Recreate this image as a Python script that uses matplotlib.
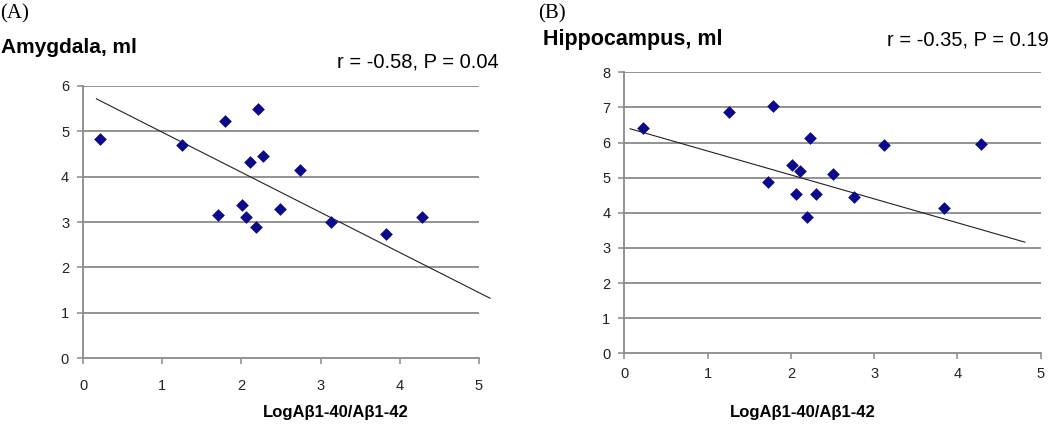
import numpy as np
import matplotlib
matplotlib.use("Agg")
import matplotlib.pyplot as plt
from matplotlib import font_manager

# ---- data ----
amy_x = [0.22, 1.25, 1.79, 2.21, 1.71, 2.01, 2.06, 2.19, 2.11, 2.27, 2.74, 2.49, 3.13, 3.82, 4.28]
amy_y = [4.83, 4.70, 5.22, 5.48, 3.15, 3.37, 3.12, 2.90, 4.31, 4.45, 4.15, 3.28, 2.99, 2.74, 3.12]
hip_x = [0.23, 1.26, 1.79, 2.23, 3.12, 4.28, 2.01, 2.11, 1.73, 2.06, 2.30, 2.51, 2.19, 2.76, 3.84]
hip_y = [6.41, 6.87, 7.03, 6.13, 5.93, 5.97, 5.35, 5.20, 4.87, 4.53, 4.53, 5.10, 3.88, 4.46, 4.14]
# trend lines (slope, intercept) and their drawn x-range
amy_trend = (-0.883, 5.86)
amy_trend_range = [0.17, 5.14]
hip_trend = (-0.681, 6.44)
hip_trend_range = [0.07, 4.81]
x_ticks = [0, 1, 2, 3, 4, 5]
amy_yticks = [0, 1, 2, 3, 4, 5, 6]
hip_yticks = [0, 1, 2, 3, 4, 5, 6, 7, 8]
xlabel = "LogA\u03b21-40/A\u03b21-42"

plt.rcParams['font.family'] = ['Liberation Sans', 'DejaVu Sans']
names = {f.name for f in font_manager.fontManager.ttflist}
narrow = ['Liberation Sans Narrow', 'Liberation Sans', 'DejaVu Sans'] if 'Liberation Sans Narrow' in names else ['Liberation Sans', 'DejaVu Sans']
narrow_size = 14 if 'Liberation Sans Narrow' in names else 12

fig = plt.figure(figsize=(10.5, 4.44), dpi=100)
W, H = 1050, 444

def make_ax(l, r, t, b):
    return fig.add_axes([l / W, 1 - b / H, (r - l) / W, (b - t) / H])

def style(ax, xs, ys, trend, trange, yticks, xpad):
    ax.set_xlim(0, 5)
    ax.set_ylim(yticks[0], yticks[-1])
    for yv in yticks[1:]:
        ax.axhline(yv, color='#8a8a8a', lw=1.3, zorder=1)
    ax.scatter(xs, ys, marker='D', s=42, color='#0a0a8a', zorder=3, linewidths=0)
    tx = np.array(trange)
    ax.plot(tx, trend[0] * tx + trend[1], color='#222222', lw=0.8, zorder=2, clip_on=False)
    for s in ['top', 'right']:
        ax.spines[s].set_visible(False)
    for s in ['left', 'bottom']:
        ax.spines[s].set_color('#8a8a8a')
        ax.spines[s].set_linewidth(1.3)
    ax.set_xticks(x_ticks)
    ax.set_yticks(yticks)
    ax.tick_params(axis='x', length=4, width=1.1, color='#8a8a8a', pad=xpad, labelsize=10.5, labelcolor='#222222')
    ax.tick_params(axis='y', length=4, width=1.1, color='#8a8a8a', pad=6, labelsize=10.5, labelcolor='#222222')

axA = make_ax(83, 479, 85.7, 358.3)
style(axA, amy_x, amy_y, amy_trend, amy_trend_range, amy_yticks, 11)
axB = make_ax(624.3, 1040.7, 72.3, 353.3)
style(axB, hip_x, hip_y, hip_trend, hip_trend_range, hip_yticks, 6)

# texts
fig.text(0 / W, 1 - 18 / H, "(A)", family='Liberation Serif', fontsize=15, va='baseline', ha='left')
fig.text(538 / W, 1 - 18 / H, "(B)", family='Liberation Serif', fontsize=15, va='baseline', ha='left')
fig.text(1 / W, 1 - 53 / H, "Amygdala, ml", fontsize=15, fontweight='bold', va='baseline', ha='left')
fig.text(543 / W, 1 - 45 / H, "Hippocampus, ml", fontsize=15.5, fontweight='bold', va='baseline', ha='left')
fig.text(499 / W, 1 - 68 / H, "r = -0.58, P = 0.04", fontsize=14.5, va='baseline', ha='right')
fig.text(1049 / W, 1 - 45 / H, "r = -0.35, P = 0.19", fontsize=14.5, va='baseline', ha='right')
fig.text(336 / W, 1 - 417 / H, xlabel, family=narrow, fontsize=narrow_size, fontweight='bold', va='baseline', ha='center')
fig.text(803 / W, 1 - 417 / H, xlabel, family=narrow, fontsize=narrow_size, fontweight='bold', va='baseline', ha='center')

fig.savefig("out.png", dpi=100)
